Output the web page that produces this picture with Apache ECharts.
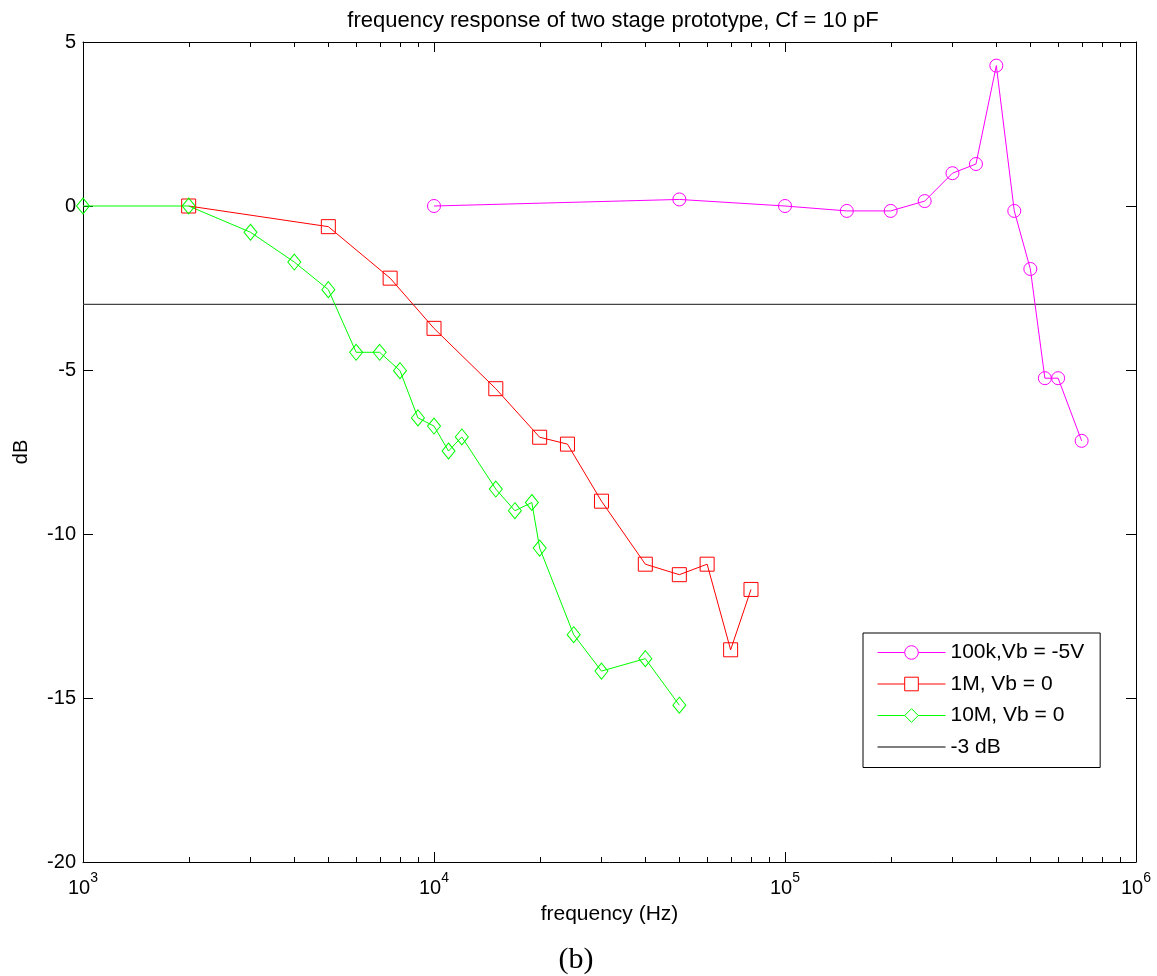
<!DOCTYPE html>
<html>
<head>
<meta charset="utf-8">
<title>frequency response of two stage prototype</title>
<script src="https://cdn.jsdelivr.net/npm/echarts@6/dist/echarts.min.js"></script>
<style>
  html, body { margin: 0; padding: 0; background: #fff; }
  #chart { width: 1157px; height: 976px; }
</style>
</head>
<body>
<div id="chart"></div>
<script>
// ---- data ----
const titleText = 'frequency response of two stage prototype, Cf = 10 pF';
const captionText = '(b)';
const xAxisTitle = 'frequency (Hz)';
const yAxisTitle = 'dB';
const seriesNames = ['100k,Vb = -5V', '1M, Vb = 0', '10M, Vb = 0', '-3 dB'];

// 100k, Vb = -5V
const freq100k = [10000, 50000, 100000, 150000, 200000, 250000, 300000, 350000, 400000, 450000, 500000, 550000, 600000, 700000];
const db100k   = [0, 0.2, 0, -0.15, -0.15, 0.15, 1.0, 1.28, 4.28, -0.15, -1.92, -5.25, -5.25, -7.16];

// 1M, Vb = 0
const freq1M = [2000, 5000, 7500, 10000, 15000, 20000, 24000, 30000, 40000, 50000, 60000, 70000, 80000];
const db1M   = [0, -0.63, -2.2, -3.73, -5.57, -7.05, -7.26, -9.0, -10.92, -11.24, -10.92, -13.53, -11.69];

// 10M, Vb = 0
const freq10M = [1000, 2000, 3000, 4000, 5000, 6000, 7000, 8000, 9000, 10000, 11000, 12000, 15000, 17000, 19000, 20000, 25000, 30000, 40000, 50000];
const db10M   = [0, 0, -0.8, -1.71, -2.55, -4.46, -4.46, -5.02, -6.46, -6.71, -7.47, -7.04, -8.63, -9.29, -9.04, -10.43, -13.07, -14.18, -13.8, -15.22];

// -3 dB reference level across the whole frequency range
const refLevel = -3;
const freqRange = [1000, 1000000];

// axis ticks
const yTicks = [-20, -15, -10, -5, 0, 5];
const minorFreqTicks = [
  2000, 3000, 4000, 5000, 6000, 7000, 8000, 9000,
  20000, 30000, 40000, 50000, 60000, 70000, 80000, 90000,
  200000, 300000, 400000, 500000, 600000, 700000, 800000, 900000
];

// ---- chart ----
const FONT = "'Liberation Sans', Arial, Helvetica, sans-serif";
const zip = (xs, ys) => xs.map((x, i) => [x, ys[i]]);
const yMin = yTicks[0];
const yMax = yTicks[yTicks.length - 1];

const chart = echarts.init(document.getElementById('chart'), null, { renderer: 'canvas' });

const boxLine = { show: true, onZero: false, lineStyle: { color: '#000', width: 1 } };
const majorTick = { show: true, inside: true, length: 10, lineStyle: { color: '#000', width: 1 } };

// decade labels drawn as 10 with a raised exponent
const decadeLabel = v => '{b|10}{s|' + Math.round(Math.log10(v)) + '}';

const option = {
  backgroundColor: '#fff',
  animation: false,
  title: [
    {
      text: titleText,
      left: 608, top: 5, textAlign: 'center',
      textStyle: { fontFamily: FONT, fontSize: 22, fontWeight: 'normal', color: '#000' }
    },
    {
      text: captionText,
      left: 571, top: 940, textAlign: 'center',
      textStyle: { fontFamily: "'Liberation Serif', 'Times New Roman', serif", fontSize: 30, fontWeight: 'normal', color: '#000' }
    }
  ],
  grid: { left: 83, right: 21, top: 42, bottom: 114, containLabel: false },
  legend: {
    orient: 'vertical',
    left: 863, top: 633,
    backgroundColor: '#fff',
    borderColor: '#000', borderWidth: 1, borderRadius: 0,
    padding: [9, 16, 10, 14],
    itemWidth: 68, itemHeight: 17, itemGap: 10.5,
    selectedMode: false,
    textStyle: { fontFamily: FONT, fontSize: 21, color: '#000', lineHeight: 21 },
    itemStyle: { borderWidth: 1 },
    lineStyle: { width: 1 },
    data: [
      { name: seriesNames[0], itemStyle: { color: '#fff' } },
      { name: seriesNames[1], itemStyle: { color: '#fff' } },
      { name: seriesNames[2], itemStyle: { color: '#fff' } },
      { name: seriesNames[3], icon: 'path://M0,0H100V2H0Z', itemStyle: { color: '#555' } }
    ]
  },
  xAxis: [
    {
      type: 'log', logBase: 10, min: freqRange[0], max: freqRange[1],
      name: xAxisTitle, nameLocation: 'middle', nameGap: 42,
      nameTextStyle: { fontFamily: FONT, fontSize: 21, color: '#000' },
      axisLine: boxLine,
      axisTick: majorTick,
      splitLine: { show: false },
      axisLabel: {
        margin: 9, color: '#000', fontFamily: FONT,
        formatter: decadeLabel,
        rich: {
          b: { fontFamily: FONT, fontSize: 20, lineHeight: 27, color: '#000', verticalAlign: 'bottom' },
          s: { fontFamily: FONT, fontSize: 14, lineHeight: 14, color: '#000', verticalAlign: 'top' }
        }
      }
    },
    {
      type: 'log', logBase: 10, min: freqRange[0], max: freqRange[1],
      position: 'top',
      axisLine: boxLine,
      axisTick: majorTick,
      axisLabel: { show: false },
      splitLine: { show: false }
    }
  ],
  yAxis: [
    {
      type: 'value', min: yMin, max: yMax, interval: 5,
      name: yAxisTitle, nameLocation: 'middle', nameGap: 52, nameRotate: 90,
      nameTextStyle: { fontFamily: FONT, fontSize: 20, color: '#000' },
      axisLine: boxLine,
      axisTick: majorTick,
      splitLine: { show: false },
      axisLabel: { margin: 7, fontFamily: FONT, fontSize: 20, color: '#000' }
    },
    {
      type: 'value', min: yMin, max: yMax, interval: 5,
      position: 'right',
      axisLine: boxLine,
      axisTick: majorTick,
      splitLine: { show: false },
      axisLabel: { show: false }
    }
  ],
  series: [
    {
      // minor decade ticks (2..9 × 10^n) on the bottom and top axes
      type: 'custom',
      silent: true,
      xAxisIndex: 0, yAxisIndex: 0,
      data: minorFreqTicks.map(f => [f, yMin]),
      z: 5,
      renderItem: function (params, api) {
        const cs = params.coordSys;
        const x = Math.round(api.coord([api.value(0), yMin])[0]) + 0.5;
        const yb = cs.y + cs.height;
        return {
          type: 'group',
          children: [
            { type: 'line', shape: { x1: x, y1: yb, x2: x, y2: yb - 5 }, style: { stroke: '#000', lineWidth: 1 } },
            { type: 'line', shape: { x1: x, y1: cs.y, x2: x, y2: cs.y + 5 }, style: { stroke: '#000', lineWidth: 1 } }
          ]
        };
      }
    },
    {
      name: seriesNames[3],
      type: 'line',
      data: zip(freqRange, [refLevel, refLevel]),
      symbol: 'none',
      lineStyle: { color: '#444', width: 1.4 },
      itemStyle: { color: '#444' },
      z: 2
    },
    {
      name: seriesNames[0],
      type: 'line',
      data: zip(freq100k, db100k),
      symbol: 'circle', symbolSize: 13,
      lineStyle: { color: '#ff00ff', width: 1 },
      itemStyle: { color: 'none', borderColor: '#ff00ff', borderWidth: 1 },
      z: 3
    },
    {
      name: seriesNames[1],
      type: 'line',
      data: zip(freq1M, db1M),
      symbol: 'rect', symbolSize: 14,
      lineStyle: { color: '#ff0000', width: 1 },
      itemStyle: { color: 'none', borderColor: '#ff0000', borderWidth: 1 },
      z: 3
    },
    {
      name: seriesNames[2],
      type: 'line',
      data: zip(freq10M, db10M),
      symbol: 'diamond', symbolSize: [13, 16],
      lineStyle: { color: '#00ff00', width: 1 },
      itemStyle: { color: 'none', borderColor: '#00ff00', borderWidth: 1 },
      z: 3
    }
  ]
};

chart.setOption(option);
</script>
</body>
</html>
